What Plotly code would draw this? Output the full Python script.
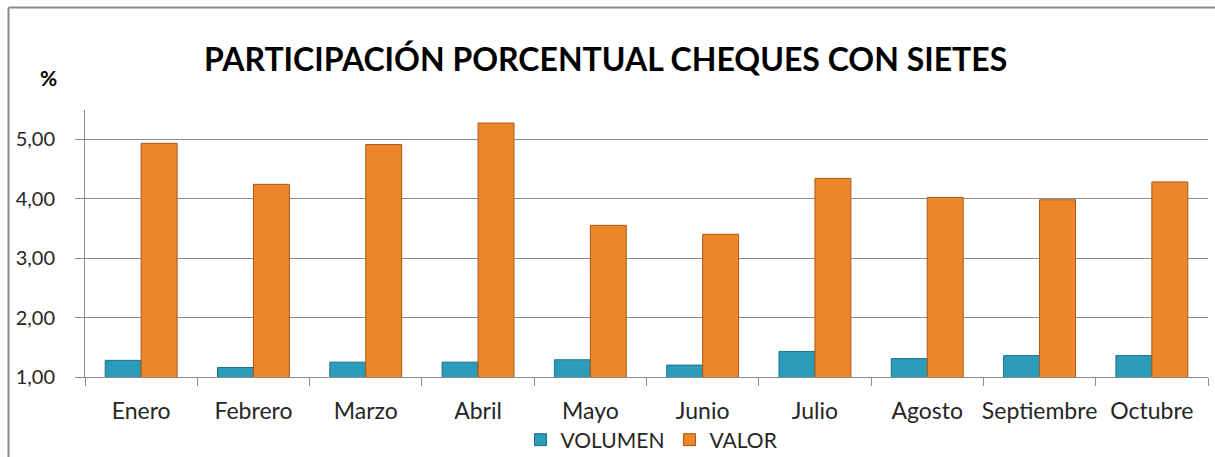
import plotly.graph_objects as go

categories = ["Enero", "Febrero", "Marzo", "Abril", "Mayo", "Junio", "Julio",
              "Agosto", "Septiembre", "Octubre"]
volumen = [1.28, 1.16, 1.25, 1.25, 1.29, 1.20, 1.43, 1.31, 1.36, 1.36]
valor = [4.93, 4.24, 4.91, 5.27, 3.55, 3.40, 4.34, 4.02, 3.98, 4.28]

W, H = 1215, 457
ml, mr, mt, mb = 85, 7, 110, 80
pw = W - ml - mr
ph = H - mt - mb

def px(x):
    return (x - ml) / pw

def py(y):
    return (H - mb - y) / ph

fig = go.Figure()
fig.add_trace(go.Bar(
    x=categories, y=volumen, name="VOLUMEN",
    marker=dict(color="#2C9CBB", line=dict(color="#1E6F86", width=1)),
))
fig.add_trace(go.Bar(
    x=categories, y=valor, name="VALOR",
    marker=dict(color="#EC8629", line=dict(color="#A9571A", width=1)),
))

fig.update_layout(
    width=W, height=H,
    margin=dict(l=ml, r=mr, t=mt, b=mb, autoexpand=False),
    paper_bgcolor="white", plot_bgcolor="white",
    separators=",.",
    barmode="group", bargap=0.36, bargroupgap=0,
    font=dict(family="Lato, Open Sans, sans-serif", color="#262626"),
    showlegend=True,
    legend=dict(orientation="h", x=px(652), xanchor="center", y=py(440),
                yanchor="middle", font=dict(size=21, color="#262626"),
                bgcolor="rgba(0,0,0,0)",
                itemwidth=30, traceorder="normal"),
)
fig.update_yaxes(
    range=[1, 5.49], dtick=1, tick0=1, tickformat=".2f",
    showgrid=True, gridcolor="#8C8C8C", gridwidth=1,
    showline=True, linecolor="#8C8C8C", linewidth=1,
    ticks="outside", ticklen=9, tickcolor="#8C8C8C",
    ticklabelstandoff=16, automargin=False,
    tickfont=dict(size=20, color="#262626"), zeroline=False,
)
fig.update_xaxes(
    showline=True, linecolor="#8C8C8C", linewidth=1,
    ticks="outside", ticklen=8, tickcolor="#8C8C8C", tickson="boundaries",
    ticklabelstandoff=13, tickangle=0, automargin=False,
    tickfont=dict(size=23, color="#262626"),
)

fig.add_annotation(
    text="<b>PARTICIPACIÓN PORCENTUAL CHEQUES CON SIETES</b>",
    xref="paper", yref="paper", x=px(605), y=py(59),
    xanchor="center", yanchor="middle", showarrow=False,
    font=dict(size=32, color="#000000"),
)
fig.add_annotation(
    text="<b>%</b>", xref="paper", yref="paper", x=px(48), y=py(78),
    xanchor="center", yanchor="middle", showarrow=False,
    font=dict(size=21, color="#000000"),
)

# chart-area border (left and top edges visible)
fig.add_shape(type="line", xref="paper", yref="paper",
              x0=px(8.5), x1=px(8.5), y0=py(H + 2), y1=py(7.5),
              line=dict(color="#8A8A8A", width=2))
fig.add_shape(type="line", xref="paper", yref="paper",
              x0=px(8.5), x1=px(W + 2), y0=py(7.5), y1=py(7.5),
              line=dict(color="#8A8A8A", width=2))

fig.write_html("out.html", config={"displayModeBar": False},
               post_script="document.body.style.margin='0';")
